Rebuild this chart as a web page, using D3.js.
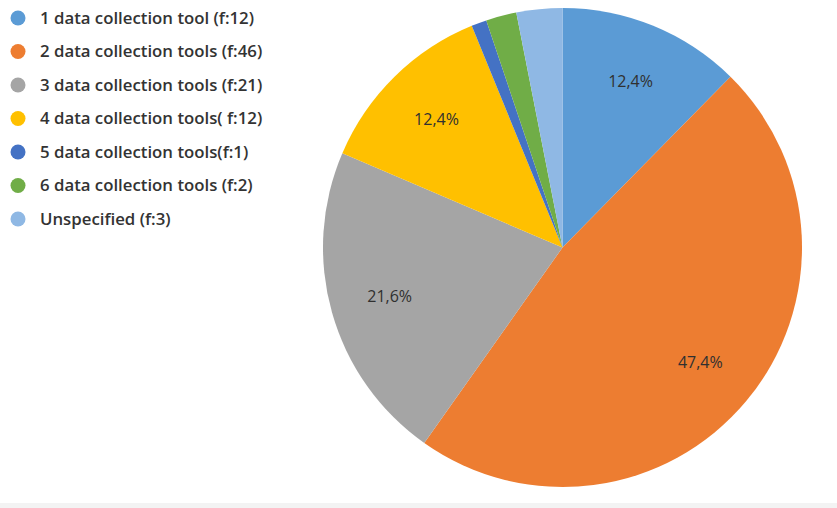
<!DOCTYPE html>
<html><head><meta charset="utf-8">
<script src="https://cdn.jsdelivr.net/npm/d3@7"></script>
<style>body{margin:0;background:#fff;}svg{display:block;}</style>
</head><body>
<svg id="chart" width="837" height="508"></svg>
<script>
const categories = ["1 data collection tool (f:12)","2 data collection tools (f:46)","3 data collection tools (f:21)","4 data collection tools( f:12)","5 data collection tools(f:1)","6 data collection tools (f:2)","Unspecified (f:3)"];
const values = [12,46,21,12,1,2,3];
const percentLabels = ["12,4%","47,4%","21,6%","12,4%","","",""];
const colors = ["#5B9BD5","#ED7D31","#A5A5A5","#FFC000","#4472C4","#70AD47","#8FB8E4"];

const svg = d3.select("#chart");
svg.append("rect").attr("x",0).attr("y",503).attr("width",837).attr("height",5).attr("fill","#f3f3f3");

const cx = 562.5, cy = 247.5, R = 239.5;
const pie = d3.pie().value(d=>d).sort(null);
const arcs = pie(values);
const arc = d3.arc().innerRadius(0).outerRadius(R);
const labelArc = d3.arc().innerRadius(R*0.75).outerRadius(R*0.75);
const g = svg.append("g").attr("transform",`translate(${cx},${cy})`);
g.selectAll("path").data(arcs).join("path")
  .attr("d",arc).attr("fill",(d,i)=>colors[i]);
g.selectAll("text").data(arcs).join("text")
  .attr("transform",d=>`translate(${labelArc.centroid(d)})`)
  .attr("text-anchor","middle").attr("dy","0.35em")
  .attr("font-family","Open Sans, sans-serif").attr("font-size",16)
  .attr("fill","#303030")
  .text((d,i)=>percentLabels[i]);

const legend = svg.append("g");
const ly = d3.scalePoint().domain(categories).range([18,219]);
const items = legend.selectAll("g").data(categories).join("g")
  .attr("transform",d=>`translate(0,${ly(d)})`);
items.append("circle").attr("cx",18).attr("cy",0).attr("r",7.5).attr("fill",(d,i)=>colors[i]);
items.append("text").attr("x",40).attr("y",0).attr("dy","0.35em")
  .attr("font-family","Open Sans, sans-serif").attr("font-weight",600).attr("font-size",16.8)
  .attr("fill","#333").text(d=>d);
</script>
</body></html>
